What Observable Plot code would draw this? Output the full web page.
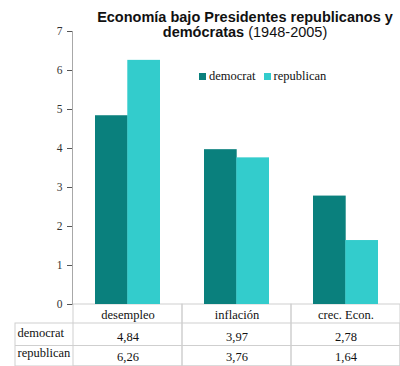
<!DOCTYPE html>
<html>
<head>
<meta charset="utf-8">
<script src="https://cdn.jsdelivr.net/npm/d3@7"></script>
<script src="https://cdn.jsdelivr.net/npm/@observablehq/plot@0.6"></script>
<style>
  html, body { margin: 0; padding: 0; background: #fff; }
  #wrap { position: relative; width: 400px; height: 366px; }
  #title { position: absolute; left: 90px; width: 310px; top: 10px; text-align: center;
    font-family: "Liberation Sans", Arial, sans-serif; font-size: 14.5px; line-height: 15px; color: #111; }
  #title b { font-weight: bold; }
  #legend { position: absolute; left: 199px; top: 69px; font-family: "Liberation Serif", serif;
    font-size: 12.5px; line-height: 14px; color: #111; white-space: nowrap; }
  #legend span.sw { display: inline-block; width: 7px; height: 7px; margin-right: 3px; vertical-align: 0px; }
  #legend span.item { margin-right: 8px; }
  svg { display: block; }
</style>
</head>
<body>
<div id="wrap"></div>
<script>
const categories = ["desempleo", "inflación", "crec. Econ."];
const democrat = [4.84, 3.97, 2.78];
const republican = [6.26, 3.76, 1.64];
const series = ["democrat", "republican"];
const colors = ["#0a807d", "#33cccc"];
const yTicks = [0, 1, 2, 3, 4, 5, 6, 7];

const rows = categories.map((c, i) => ({category: c, democrat: democrat[i], republican: republican[i]}));
const fmt = d3.formatLocale({decimal: ",", thousands: ".", grouping: [3], currency: ["", ""]}).format(".2f");
const grid = "#cfcfcf";
const serif = "Liberation Serif, serif";

const chart = Plot.plot({
  width: 400,
  height: 366,
  marginTop: 31,
  marginBottom: 62,
  marginLeft: 72,
  marginRight: 0,
  x: {domain: categories, padding: 0, axis: null},
  y: {domain: [0, 7], axis: null},
  style: {fontFamily: serif, fontSize: "11px", color: "#333", background: "#fff"},
  marks: [
    // table cells under each category
    Plot.barY(rows, {x: "category", y1: 0, y2: 0, insetBottom: -62, fill: "none", stroke: grid}),
    // left column frame
    Plot.rect([0], {y1: 0, y2: 0, insetLeft: -57, insetBottom: -43, dy: 19, fill: "none", stroke: grid}),
    Plot.ruleY([0], {dy: 41, insetLeft: -57, stroke: grid}),
    // bars
    Plot.barY(rows, {x: "category", y: "democrat", fill: colors[0], insetLeft: 22, insetRight: 54.3}),
    Plot.barY(rows, {x: "category", y: "republican", fill: colors[1], insetLeft: 54.3, insetRight: 22}),
    // y axis
    Plot.axisY({ticks: yTicks, tickFormat: d3.format("d"), tickSize: 5, tickPadding: 5, label: null,
      stroke: "#555", fill: "#333", fontFamily: serif, fontSize: 11.5}),
    Plot.frame({anchor: "left", stroke: "#a8a8a8"}),
    // table text
    Plot.text(rows, {x: "category", y: 0, dy: 10, text: "category", fontSize: 12.5, fontFamily: serif, fill: "#111"}),
    Plot.text(rows, {x: "category", y: 0, dy: 32.5, text: d => fmt(d.democrat), fontSize: 12.5, fontFamily: serif, fill: "#111"}),
    Plot.text(rows, {x: "category", y: 0, dy: 52.5, text: d => fmt(d.republican), fontSize: 12.5, fontFamily: serif, fill: "#111"}),
    Plot.text([series[0]], {frameAnchor: "bottom-left", text: d => d, dx: -55, dy: 32.5, textAnchor: "start", fontSize: 12.5, fontFamily: serif, fill: "#111"}),
    Plot.text([series[1]], {frameAnchor: "bottom-left", text: d => d, dx: -55, dy: 52.5, textAnchor: "start", fontSize: 12.5, fontFamily: serif, fill: "#111"})
  ]
});

const wrap = document.getElementById("wrap");
wrap.appendChild(chart);

const title = document.createElement("div");
title.id = "title";
title.innerHTML = "<b>Economía bajo Presidentes republicanos y</b><br><b>demócratas</b> (1948-2005)";
wrap.appendChild(title);

const legend = document.createElement("div");
legend.id = "legend";
legend.innerHTML = series.map((s, i) =>
  `<span class="item"><span class="sw" style="background:${colors[i]}"></span>${s}</span>`).join("");
wrap.appendChild(legend);
</script>
</body>
</html>
